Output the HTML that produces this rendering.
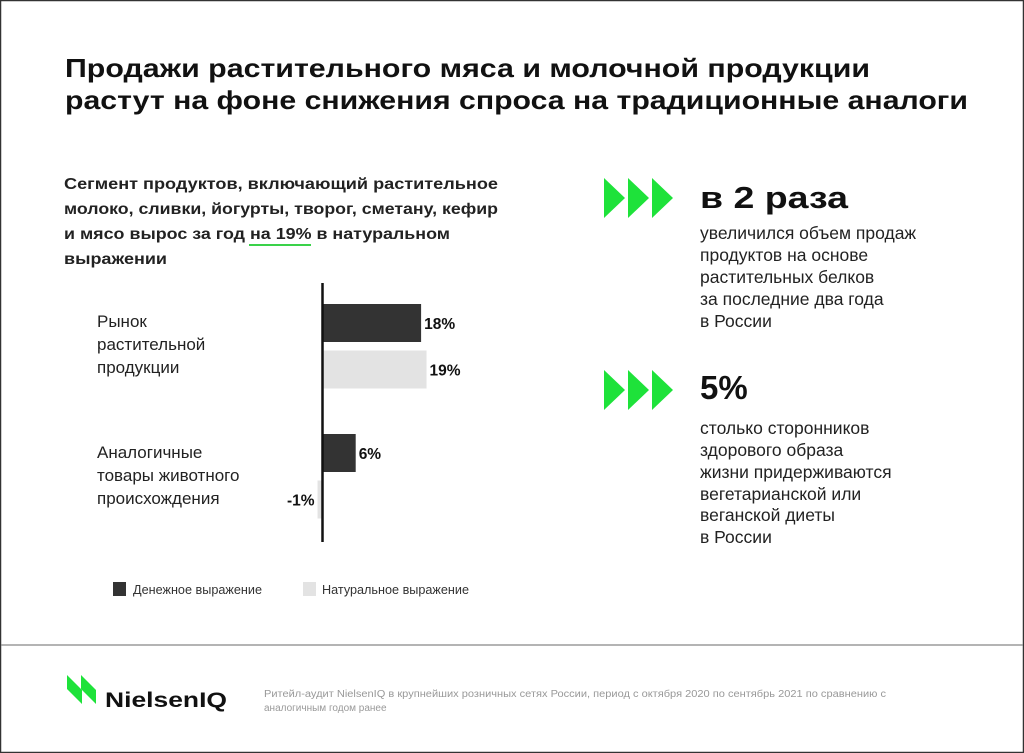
<!DOCTYPE html>
<html><head><meta charset="utf-8"><style>
html,body{margin:0;padding:0;background:#fff}
svg{display:block;font-family:"Liberation Sans","DejaVu Sans",sans-serif}
</style></head><body>
<svg id="s" width="1024" height="753" viewBox="0 0 1024 753">
<rect x="0.5" y="0.5" width="1023" height="752" fill="#fff" stroke="#333" stroke-width="1.5"/>
<line x1="1" y1="645" x2="1023" y2="645" stroke="#888" stroke-width="1.2"/>
<g font-weight="bold" font-size="26" fill="#111">
<text x="65" y="77" textLength="805" lengthAdjust="spacingAndGlyphs">Продажи растительного мяса и молочной продукции</text>
<text x="65" y="109" textLength="903" lengthAdjust="spacingAndGlyphs">растут на фоне снижения спроса на традиционные аналоги</text>
</g>
<g font-weight="bold" font-size="16" fill="#222">
<text x="64" y="189" textLength="434" lengthAdjust="spacingAndGlyphs">Сегмент продуктов, включающий растительное</text>
<text x="64" y="214" textLength="434" lengthAdjust="spacingAndGlyphs">молоко, сливки, йогурты, творог, сметану, кефир</text>
<text x="64" y="239" textLength="386" lengthAdjust="spacingAndGlyphs">и мясо вырос за год на 19% в натуральном</text>
<text x="64" y="264" textLength="103" lengthAdjust="spacingAndGlyphs">выражении</text>
</g>
<line x1="249" y1="245" x2="311" y2="245" stroke="#3ad24a" stroke-width="2"/>
<g font-size="17" fill="#222">
<text x="97" y="327">Рынок</text><text x="97" y="350">растительной</text><text x="97" y="373">продукции</text>
<text x="97" y="458">Аналогичные</text><text x="97" y="481">товары животного</text><text x="97" y="504">происхождения</text>
</g>
<g id="bars"></g>
<line x1="322.5" y1="283" x2="322.5" y2="542" stroke="#111" stroke-width="2.5"/>
<g font-size="12.5" fill="#333">
<rect x="113" y="582" width="13" height="14" fill="#333"/>
<text x="133" y="594" textLength="129" lengthAdjust="spacingAndGlyphs">Денежное выражение</text>
<rect x="303" y="582" width="13" height="14" fill="#e3e3e3"/>
<text x="322" y="594" textLength="147" lengthAdjust="spacingAndGlyphs">Натуральное выражение</text>
</g>
<g fill="#1ee23a">
<polygon points="604,178 625,198 604,218"/><polygon points="628,178 649,198 628,218"/><polygon points="652,178 673,198 652,218"/>
</g>
<g fill="#1ee23a">
<polygon points="604,370 625,390 604,410"/><polygon points="628,370 649,390 628,410"/><polygon points="652,370 673,390 652,410"/>
</g>
<text x="700" y="208" font-size="31" font-weight="bold" fill="#111" textLength="148" lengthAdjust="spacingAndGlyphs">в 2 раза</text>
<g font-size="17.5" fill="#222">
<text x="700" y="239">увеличился объем продаж</text><text x="700" y="261">продуктов на основе</text><text x="700" y="283">растительных белков</text><text x="700" y="305">за последние два года</text><text x="700" y="327">в России</text>
</g>
<text x="700" y="399" font-size="33" font-weight="bold" fill="#111">5%</text>
<g font-size="17.5" fill="#222">
<text x="700" y="434">столько сторонников</text><text x="700" y="456">здорового образа</text><text x="700" y="478">жизни придерживаются</text><text x="700" y="500">вегетарианской или</text><text x="700" y="521">веганской диеты</text><text x="700" y="543">в России</text>
</g>
<g>
<polygon points="67,675 67,689 82,704 82,690" fill="#1ee23a"/>
<polygon points="81,675 81,689 96,704 96,690" fill="#1ee23a"/>
<text x="105" y="707" font-size="21" font-weight="bold" fill="#111" textLength="122" lengthAdjust="spacingAndGlyphs">NielsenIQ</text>
</g>
<g font-size="10" fill="#999">
<text x="264" y="697" textLength="622" lengthAdjust="spacingAndGlyphs">Ритейл-аудит NielsenIQ в крупнейших розничных сетях России, период с октября 2020 по сентябрь 2021 по сравнению с</text>
<text x="264" y="711">аналогичным годом ранее</text>
</g>
</svg>
<script>
const categories=["Рынок растительной продукции","Аналогичные товары животного происхождения"];
const moneyValues=[18,6];
const volumeValues=[19,-1];
const valueLabels=[["18%","19%"],["6%","-1%"]];
const NS="http://www.w3.org/2000/svg";
const g=document.getElementById('bars');
const x0=323,pxPer=5.45;
function xs(v){return x0+v*pxPer;}
const groupTop=[304,434];
const series=[moneyValues,volumeValues];
const colors=["#333","#e3e3e3"];
categories.forEach((c,i)=>{
  series.forEach((arr,j)=>{
    const v=arr[i];
    const y=groupTop[i]+j*46.5;
    const r=document.createElementNS(NS,'rect');
    const a=Math.min(xs(0),xs(v)),b=Math.max(xs(0),xs(v));
    r.setAttribute('x',a);r.setAttribute('y',y);r.setAttribute('width',b-a);r.setAttribute('height',38);
    r.setAttribute('fill',colors[j]);
    
    
    g.appendChild(r);
    const t=document.createElementNS(NS,'text');
    t.textContent=valueLabels[i][j];
    t.setAttribute('font-size','15.5');t.setAttribute('font-weight','bold');t.setAttribute('fill','#111');
    t.setAttribute('y',y+25);
    if(v>=0){t.setAttribute('x',b+3);}else{t.setAttribute('x',a-3);t.setAttribute('text-anchor','end');}
    
    
    g.appendChild(t);
  });
});
</script>
</body></html>
